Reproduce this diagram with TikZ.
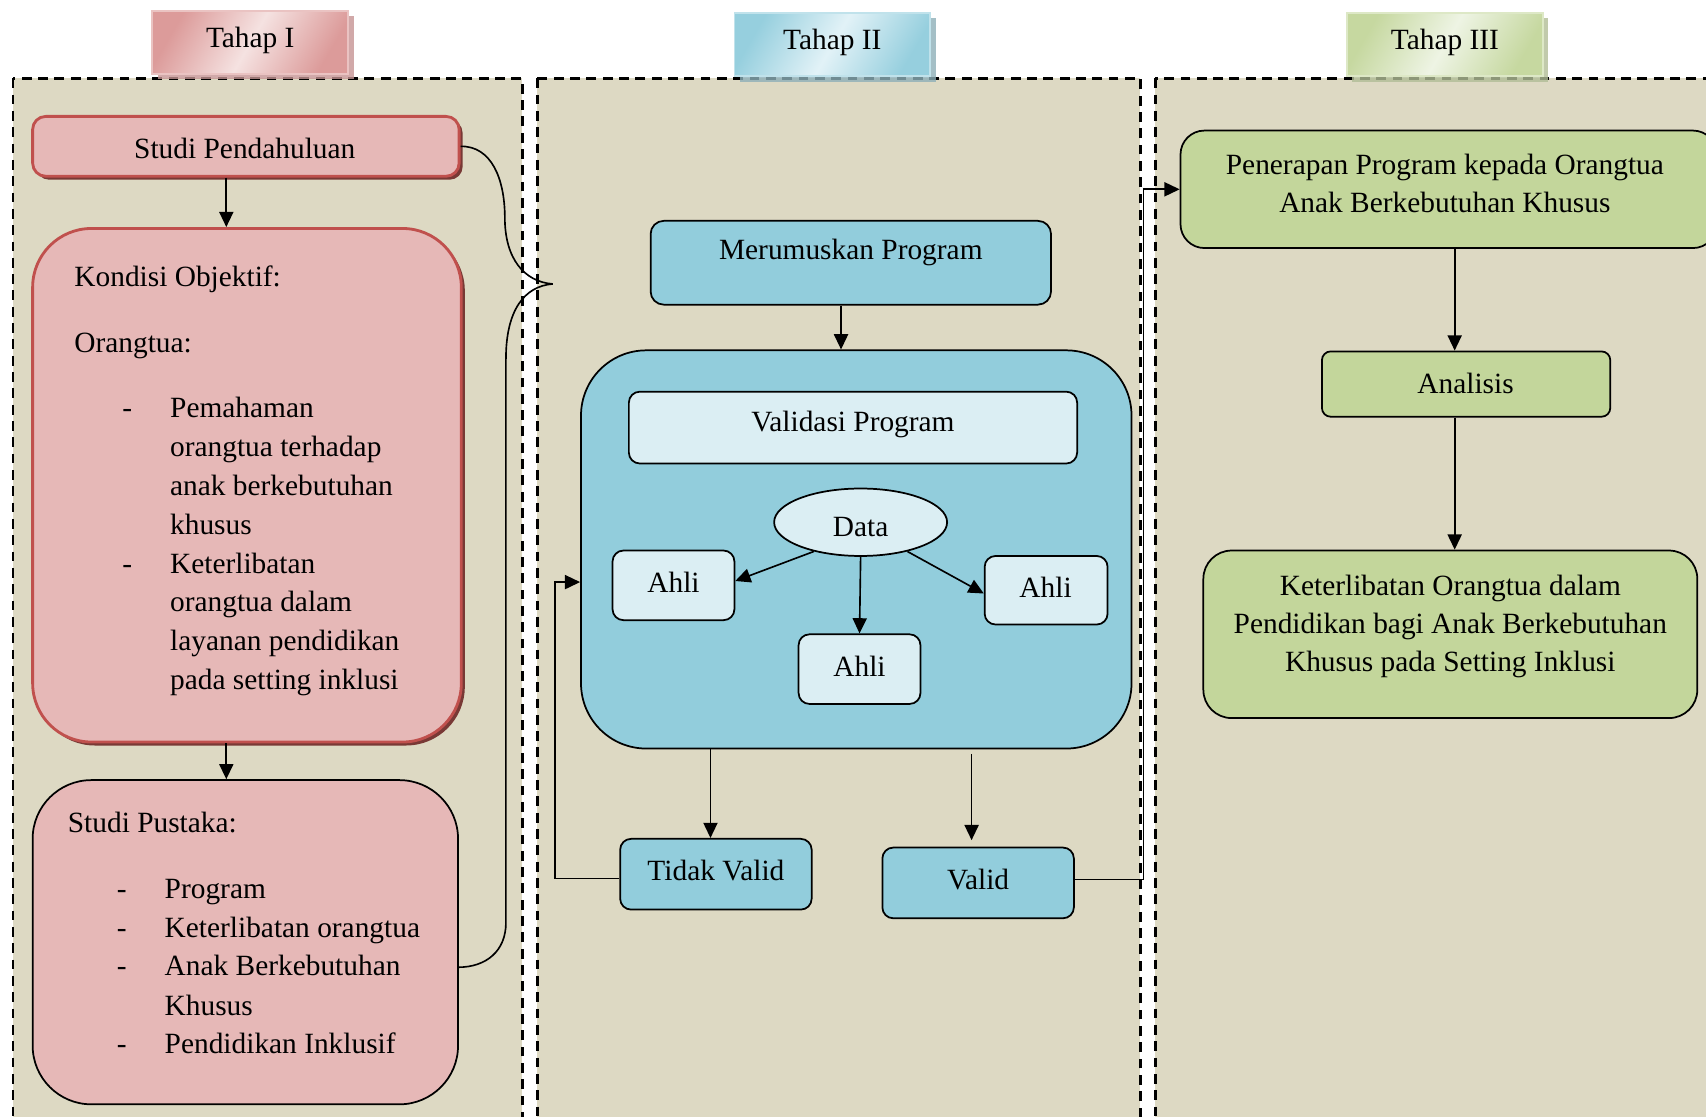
\documentclass[tikz,border=0pt]{standalone}
\usepackage{fontspec}
\setmainfont{Liberation Serif}
\usetikzlibrary{shadows,fit,arrows.meta,shapes.geometric,calc}
\definecolor{beige}{RGB}{221,217,195}
\definecolor{pinkF}{RGB}{230,184,183}
\definecolor{pinkB}{RGB}{192,80,77}
\definecolor{pinkS}{RGB}{110,40,38}
\definecolor{blueF}{RGB}{146,205,220}
\definecolor{blueL}{RGB}{219,238,243}
\definecolor{greenF}{RGB}{195,214,155}
\definecolor{hpD}{RGB}{220,155,154}
\definecolor{hpL}{RGB}{245,226,225}
\definecolor{hbD}{RGB}{150,207,222}
\definecolor{hbL}{RGB}{226,242,247}
\definecolor{hgD}{RGB}{198,216,160}
\definecolor{hgL}{RGB}{238,244,228}
\begin{document}
\begin{tikzpicture}[x=0.5pt,y=-0.5pt,
  font=\fontsize{13.5}{17.5}\selectfont,
  panel/.style={fill=beige, draw=black, line width=1.2pt, dash pattern=on 4.5pt off 3pt},
  hdr/.style={inner sep=0pt, line width=0.8pt},
  box/.style={draw=black, line width=0.8pt, inner sep=0pt},
  redbox/.style={draw=pinkB, line width=1.3pt, fill=pinkF, inner sep=0pt,
     drop shadow={shadow xshift=1.6pt, shadow yshift=-1.6pt, fill=pinkS, opacity=0.9}},
  arr/.style={-{Triangle[length=7pt,width=6.5pt]}, line width=0.75pt},
  ln/.style={line width=0.75pt},
  txt/.style={anchor=base west, inner sep=0pt}]
\useasboundingbox (0,0) rectangle (1568,1026);
\clip (0,0) rectangle (1568,1026);
% panels
\path[panel] (12,72) rectangle (480,1045);
\path[panel] (494,72) rectangle (1048,1045);
\path[panel] (1062,72) rectangle (1590,1045);
% headers
\node[hdr, fit={(140,10) (320,68)}, left color=hpD, right color=hpD, middle color=hpL, shading angle=60, draw=hpD!60!white,
  drop shadow={shadow xshift=2.5pt, shadow yshift=-2.5pt, fill=hpD!75!gray, opacity=0.8}] (h1) {};
\node (h1t) at (230,37) {Tahap I};
\node[hdr, fit={(675,12) (855,70)}, left color=hbD, right color=hbD, middle color=hbL, shading angle=60, draw=hbD!60!white,
  drop shadow={shadow xshift=2.5pt, shadow yshift=-2.5pt, fill=hbD!60!gray, opacity=0.8}] (h2) {};
\node (h2t) at (765,39) {Tahap II};
\node[hdr, fit={(1238,12) (1418,70)}, left color=hgD, right color=hgD, middle color=hgL, shading angle=60, draw=hgD!60!white,
  drop shadow={shadow xshift=2.5pt, shadow yshift=-2.5pt, fill=hgD!70!gray, opacity=0.8}] (h3) {};
\node (h3t) at (1328,39) {Tahap III};
% ---- Tahap I
\node[redbox, rounded corners=6pt, fit={(30,107) (422,162)}] (sp) {};
\node (spt) at (225,136) {Studi Pendahuluan};
\node[redbox, rounded corners=27pt, fit={(30,210) (424,682)}] (ko) {};
\node[txt] (koh) at (68,263) {Kondisi Objektif:};
\node[txt] (kor) at (68,324) {Orangtua:};
\node[txt] (kd1) at (112,384) {-};
\node[txt] (kd2) at (112,527) {-};
\foreach \t/\y [count=\i] in {Pemahaman/376,orangtua terhadap/412,anak berkebutuhan/447,khusus/483,Keterlibatan/519,orangtua dalam/554,layanan pendidikan/590,pada setting inklusi/626}
  \node[txt] (ki\i) at (156,\y+8) {\t};
\node[box, fill=pinkF, rounded corners=27pt, fit={(30,717) (421,1015)}] (pu) {};
\node[txt] (puh) at (62,765) {Studi Pustaka:};
\foreach \y [count=\i] in {818,854,889,960}
  \node[txt] (pd\i) at (107,\y+8) {-};
\foreach \t/\y [count=\i] in {Program/818,Keterlibatan orangtua/854,Anak Berkebutuhan/889,Khusus/925,Pendidikan Inklusif/960}
  \node[txt] (pi\i) at (151,\y+8) {\t};
\coordinate (x208) at (208,0);
\draw[arr] (sp.south -| x208) -- (ko.north -| x208);
\draw[arr] (ko.south -| x208) -- (pu.north -| x208);
% brace
\coordinate (tip) at (508,261);
\coordinate (pr) at (421,889);
\draw[ln] (sp.east) .. controls (452,134) and (464,165) .. (464,200) .. controls (464,238) and (482,259) .. (tip);
\draw[ln] (tip) .. controls (482,263) and (465,285) .. (465,330) -- (465,848) .. controls (465,874) and (447,889) .. (pr);
% ---- Tahap II
\node[box, fill=blueF, rounded corners=6pt, fit={(598,203) (966,280)}] (mp) {};
\node (mpt) at (782,232) {Merumuskan Program};
\node[box, fill=blueF, rounded corners=30pt, fit={(534,322) (1040,688)}] (big) {};
\node[box, fill=blueL, rounded corners=5pt, fit={(578,360) (990,426)}] (vp) {};
\node (vpt) at (784,390) {Validasi Program};
\node[box, ellipse, fill=blueL, minimum width=79.5pt, minimum height=31pt] (data) at (791,480) {};
\node (datat) at (791,484) {Data};
\node[box, fill=blueL, rounded corners=5pt, fit={(563,506) (675,570)}] (a1) {};
\node (a1t) at (619,535) {Ahli};
\node[box, fill=blueL, rounded corners=5pt, fit={(905,511) (1018,574)}] (a2) {};
\node (a2t) at (961,540) {Ahli};
\node[box, fill=blueL, rounded corners=5pt, fit={(734,583) (846,647)}] (a3) {};
\node (a3t) at (790,612) {Ahli};
\node[box, fill=blueF, rounded corners=5pt, fit={(570,771) (746,836)}] (tv) {};
\node (tvt) at (658,800) {Tidak Valid};
\node[box, fill=blueF, rounded corners=5pt, fit={(811,779) (987,844)}] (va) {};
\node (vat) at (899,808) {Valid};
\coordinate (x773) at (773,0);
\draw[arr] (mp.south -| x773) -- (big.north -| x773);
\draw[arr] (data.-148) -- ($(a1.east)+(0,-4)$);
\draw[arr] (data.south) -- (a3.north);
\draw[arr] (data.-32) -- ($(a2.west)+(0,3)$);
\coordinate (x653) at (653,0);
\draw[arr] (big.south -| x653) -- (tv.north -| x653);
\coordinate (x893) at (893,0);
\draw[arr] ($(big.south -| x893)+(0,4)$) -- ($(va.north -| x893)+(0,-6)$);
\coordinate (fbx) at (510,0);
\coordinate (fby) at (0,535);
\coordinate (tvw) at ($(tv.west)+(0,4)$);
\draw[arr] (tvw) -- (tvw -| fbx) |- (big.west |- fby);
% ---- Tahap III
\node[box, fill=greenF, rounded corners=11pt, fit={(1085,120) (1578,228)}] (pen) {};
\node[align=center] (pent) at (1328,168.5) {Penerapan Program kepada Orangtua\\Anak Berkebutuhan Khusus};
\node[box, fill=greenF, rounded corners=4pt, fit={(1215,323) (1480,383)}] (an) {};
\node (ant) at (1347,352) {Analisis};
\node[box, fill=greenF, rounded corners=13pt, fit={(1106,506) (1560,660)}] (ke) {};
\node[align=center] (ket) at (1333,576) {Keterlibatan Orangtua dalam\\Pendidikan bagi Anak Berkebutuhan\\Khusus pada Setting Inklusi};
\coordinate (vx) at (1051,0);
\coordinate (vaw) at ($(va.east)+(0,-3)$);
\draw[arr] (vaw) -- (vaw -| vx) |- (pen.west);
\coordinate (x1337) at (1337,0);
\draw[arr] (pen.south -| x1337) -- (an.north -| x1337);
\draw[arr] (an.south -| x1337) -- (ke.north -| x1337);
\end{tikzpicture}
\end{document}
